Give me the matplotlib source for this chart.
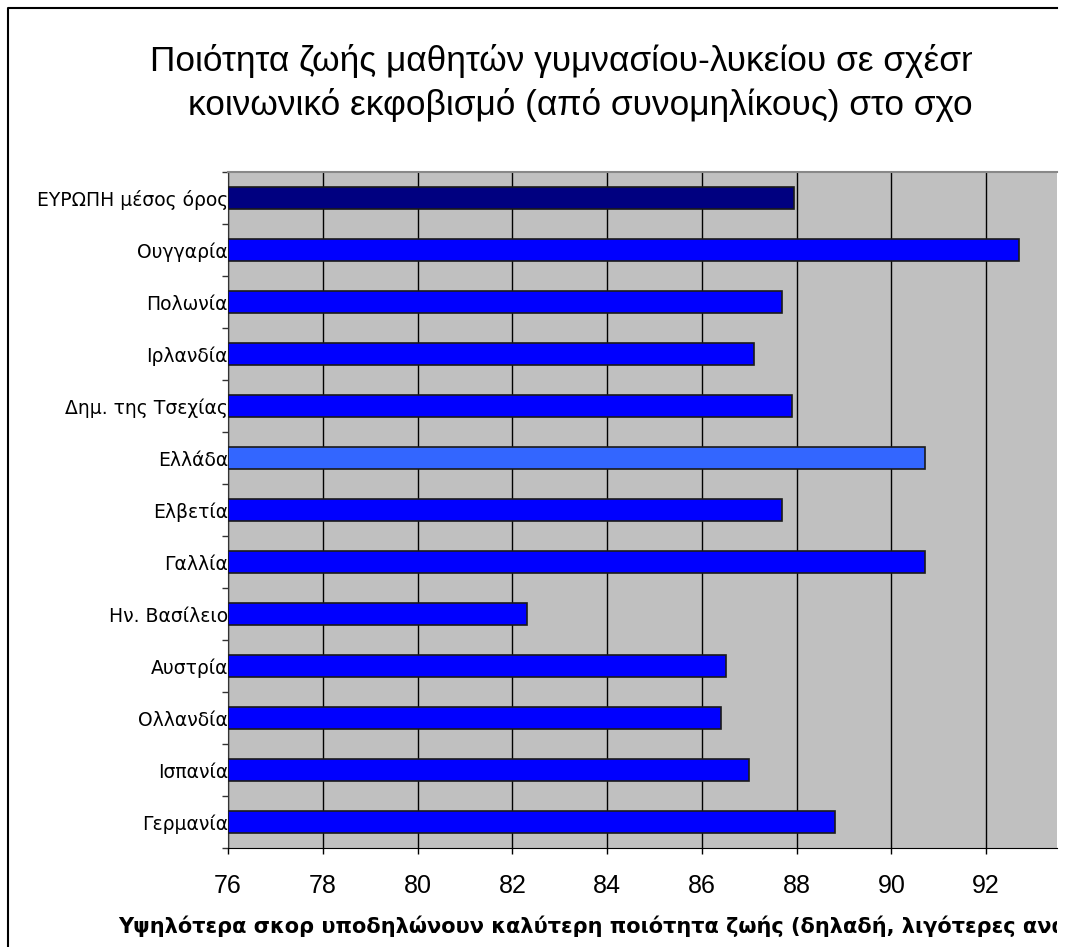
import numpy as np
import matplotlib
matplotlib.use("Agg")
import matplotlib.pyplot as plt
from matplotlib.lines import Line2D
from matplotlib.transforms import Bbox, TransformedBbox

plt.rcParams['font.family'] = ['DejaVu Sans']

# data, top to bottom as in the chart
countries = ["ΕΥΡΩΠΗ μέσος όρος", "Ουγγαρία", "Πολωνία", "Ιρλανδία",
             "Δημ. της Τσεχίας", "Ελλάδα", "Ελβετία", "Γαλλία",
             "Ην. Βασίλειο", "Αυστρία", "Ολλανδία", "Ισπανία", "Γερμανία"]
scores = [87.95, 92.7, 87.7, 87.1, 87.9, 90.7, 87.7, 90.7,
          82.3, 86.5, 86.4, 87.0, 88.8]
xticks = [76, 78, 80, 82, 84, 86, 88, 90, 92]

title1 = "Ποιότητα ζωής μαθητών γυμνασίου-λυκείου σε σχέση με τον"
title2 = "κοινωνικό εκφοβισμό (από συνομηλίκους) στο σχολείο"
note = "Υψηλότερα σκορ υποδηλώνουν καλύτερη ποιότητα ζωής (δηλαδή, λιγότερες αναφορές)"

colors = []
for c in countries:
    if c.startswith("ΕΥΡΩΠΗ"):
        colors.append("#000080")
    elif c == "Ελλάδα":
        colors.append("#3366FF")
    else:
        colors.append("#0000FF")

W, H = 1071, 947
fig = plt.figure(figsize=(W / 100, H / 100), dpi=100)
ax = fig.add_axes([228 / W, (H - 848) / H, (1057 - 228) / W, (848 - 172) / H])
ax.set_facecolor("#C0C0C0")

y = np.arange(len(countries))[::-1]
ax.barh(y, np.array(scores) - 76, left=76, height=0.435, color=colors,
        edgecolor="#1a1a1a", linewidth=1.2, zorder=3)

ax.set_xlim(76, 76 + (1057 - 228) / 47.39)
ax.set_ylim(-0.5, len(countries) - 0.5)
ax.set_xticks(xticks)
ax.set_xticklabels([str(t) for t in xticks], fontsize=18, family="Liberation Sans")
ax.tick_params(axis="x", direction="out", length=4.5, width=1, pad=14, color="black")
ax.xaxis.grid(True, color="black", linewidth=1, zorder=1)

ax.set_yticks(y)
ax.set_yticklabels(countries, fontsize=13.5)
ax.tick_params(axis="y", which="major", length=0, pad=0)
ax.set_yticks(np.arange(len(countries) + 1) - 0.5, minor=True)
ax.tick_params(axis="y", which="minor", direction="out", length=4.5, width=1, color="#333333")
ax.set_axisbelow(True)

ax.spines["left"].set_color("#333333")
ax.spines["bottom"].set_color("black")
ax.spines["top"].set_color("#888888")
ax.spines["top"].set_linewidth(1.5)
ax.spines["right"].set_visible(False)

# the title box of the original chart is cut at about x=972, the note at x=1057
title_clip = TransformedBbox(Bbox([[0, 0], [972 / W, 1]]), fig.transFigure)
note_clip = TransformedBbox(Bbox([[0, 0], [1057 / W, 1]]), fig.transFigure)

t1 = fig.text(150 / W, 1 - 71 / H, title1, fontsize=25.4, family="Liberation Sans",
              va="baseline", ha="left")
t2 = fig.text(188 / W, 1 - 115 / H, title2, fontsize=25.4, family="Liberation Sans",
              va="baseline", ha="left")
t3 = fig.text(118 / W, 1 - 933 / H, note, fontsize=15.05, fontweight="bold",
              va="baseline", ha="left")
t1.set_clip_box(title_clip)
t2.set_clip_box(title_clip)
t3.set_clip_box(note_clip)

# outer chart frame, cut at the right and bottom
fig.add_artist(Line2D([8 / W, 8 / W, 1057 / W], [0, 1 - 8 / H, 1 - 8 / H],
                      color="black", linewidth=1.5, transform=fig.transFigure))

fig.savefig("out.png", dpi=100, facecolor="white")
